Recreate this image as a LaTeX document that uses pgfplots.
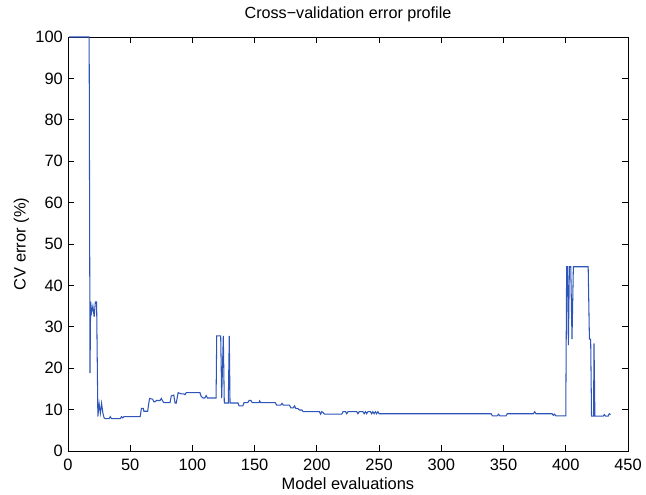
\documentclass[border=0pt]{standalone}
\usepackage{pgfplots}
\pgfplotsset{compat=1.18}
\usepackage{fontspec}
\setmainfont{Liberation Sans}
\definecolor{mblue}{RGB}{45,85,185}
\begin{document}
\fontsize{16.5}{19}\selectfont
\begin{tikzpicture}
\useasboundingbox (-68bp,-44bp) rectangle (578bp,451bp);
\begin{axis}[
  at={(0,0)}, anchor=south west,
  scale only axis, width=560bp, height=414bp,
  xmin=0, xmax=450, ymin=0, ymax=100,
  xtick={0,50,...,450}, ytick={0,10,...,100},
  tick align=inside, major tick length=5.6bp,
  axis line style={black, line width=0.9bp},
  every tick/.style={black, line width=0.9bp},
  /pgf/number format/assume math mode=true,
  ticklabel style={font=\fontsize{16.5}{19}\selectfont, inner sep=0pt},
  xticklabel style={anchor=base, yshift=-19bp},
  yticklabel style={anchor=east, xshift=-5bp},
  title={Cross−validation error profile},
  title style={font=\fontsize{16.2}{19}\selectfont, at={(axis description cs:0.5,1.0297)}, anchor=base, inner sep=0pt},
  xlabel={Model evaluations},
  xlabel style={font=\fontsize{16.5}{19}\selectfont, at={(axis description cs:0.5,-0.092)}, anchor=base, inner sep=0pt},
  ylabel={CV error (\%)},
  ylabel style={font=\fontsize{16.5}{19}\selectfont, at={(axis description cs:-0.0755,0.5)}, anchor=base, rotate=0, inner sep=0pt},
]
\addplot[mblue, line width=1.05bp] coordinates {
(1,100)(17,100)(17.7,18.8)(18.2,36.1)(19,33.5)(20,35)(21,32.4)(22,36)(23,36)
(24,8.3)(25,11.5)(26,9.1)(27,11.5)(28,9.2)(29,8.0)(30,7.8)(33,7.8)(34,8.3)(35,7.8)
(42,7.8)(43,8.3)(44,8.0)(45,8.3)(46,8.3)(58,8.3)
(59,10.3)(60.5,10.3)(61,9.6)(64,9.6)(65.5,12.7)(68,12.5)(69,11.9)(70,11.9)(71,12.2)(74,12.2)
(75,12.7)(76,12.1)(77,11.7)(82,11.7)(83,13.3)(85,13.5)(86,11.6)(87,11.6)(88.5,14.1)(91,13.8)
(93,13.8)(94,13.6)(95,14.1)(106,14.1)(107,13.2)(108.5,12.8)(110,12.8)(111,13.4)(112,12.8)(119,12.8)
(119.5,27.8)(122.7,27.8)(123.5,12.8)(124.8,27.8)(125.6,11.6)(128.8,11.6)(129.6,27.8)(130.2,11.6)
(136.6,11.6)(137.5,10.9)(140.5,10.9)(141.5,11.7)(144.5,11.7)(145.5,12.2)(147,12.2)(148,11.7)
(153.5,11.7)(154,12.1)(154.8,11.7)(166.5,11.7)(167.7,11.1)(171,11.1)(172,11.5)(173,11.1)(178,11.1)
(179,10.4)(181,10.4)(182,10.9)(183,10.3)(185,10.2)(186,9.9)(188,9.9)(189,9.5)(202,9.5)(203,8.9)
(204,9.5)(205,9.3)(206,8.9)(220,8.9)(221,9.5)(223,9.5)(224,9.0)(225,9.5)(232,9.5)(233,9.0)
(234,9.5)(237,9.5)(238,9.0)(239,9.5)(240,9.0)(241,9.5)(243,9.5)(244,9.0)(245,9.5)(246,9.0)
(247,9.5)(248,9.0)(249,9.5)(250,9.0)(340,9.0)(341,8.5)(345,8.5)(346,8.9)(347,8.5)(352,8.5)
(353,9.0)(374,9.0)(375,9.5)(376,9.0)(389,9.0)(390,8.6)(391,8.9)(392,8.5)(400,8.5)
(400.7,44.5)(401.4,44.5)(402.1,25.6)(402.9,44.5)(404,44.5)(405,27.0)(406.1,44.5)(418,44.5)
(419,27)(420,27)(420.7,8.4)(422.3,8.4)(422.7,26)(423.4,8.4)(430,8.4)(431,8.8)(432,8.4)
(434,8.4)(435,9)(436,8.8)
};
\end{axis}
\end{tikzpicture}
\end{document}
